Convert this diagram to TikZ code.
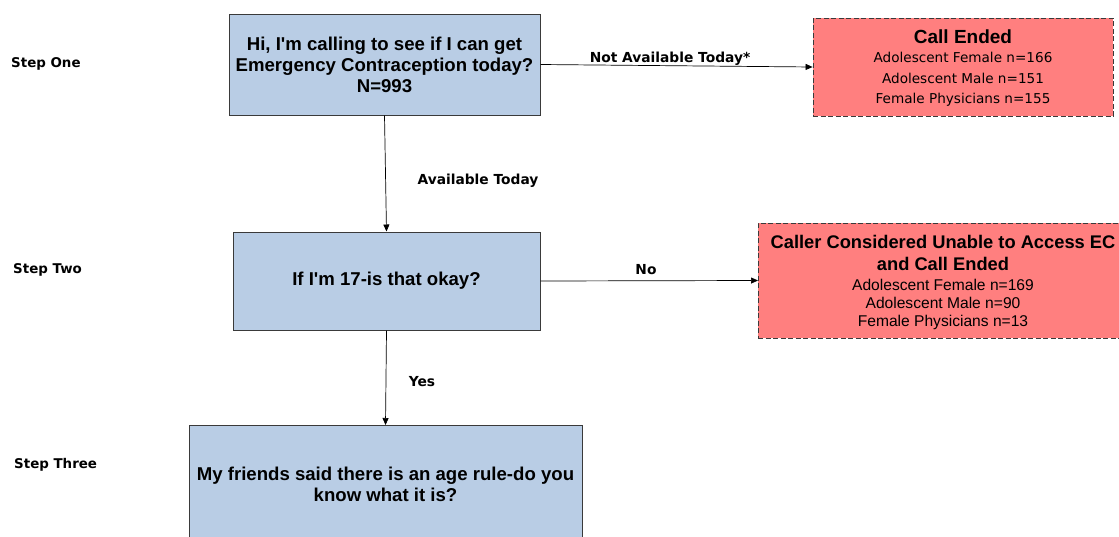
\documentclass[tikz,border=0pt]{standalone}
\usepackage{fontspec}
\setmainfont{Liberation Sans}
\newfontfamily\dvs{DejaVu Sans}
\newfontfamily\arialplain{Liberation Sans}
\usetikzlibrary{arrows.meta}
\definecolor{bluefill}{HTML}{B9CDE5}
\definecolor{redfill}{HTML}{FF7F7F}
\definecolor{edge}{HTML}{3A3A3A}
\newcommand{\apos}{{\arialplain'}}
\tikzset{
  qbox/.style={draw=edge, line width=1pt, fill=bluefill, inner sep=0pt, align=center},
  qfont/.style={font=\fontsize{18.6}{21}\selectfont\bfseries},
  endbox/.style={draw=edge, line width=0.8pt, dash pattern=on 5pt off 2.5pt, fill=redfill, inner sep=0pt, align=center},
  steplabel/.style={anchor=west, inner sep=0pt, font=\dvs\fontsize{13.4}{15}\selectfont\bfseries},
  edgelabel/.style={inner sep=0pt, font=\dvs\fontsize{13.8}{15}\selectfont\bfseries},
  conn/.style={-{Triangle[length=7pt,width=6pt]}, line width=0.7pt, black}
}
\begin{document}
\begin{tikzpicture}[x=1pt,y=-1pt]
\useasboundingbox (0,0) rectangle (1119,536);
\clip (0,0) rectangle (1119,536);
\fill[white] (0,0) rectangle (1119,536);
% step labels
\node[steplabel] (s1) at (11,64) {Step One};
\node[steplabel] (s2) at (13,270) {Step Two};
\node[steplabel] (s3) at (14,465) {Step Three};
% question boxes
\node[qbox, qfont, minimum width=311pt, minimum height=101pt] (q1) at (384.5,64.5)
  {Hi, I\apos m calling to see if I can get\\Emergency Contraception today?\\N=993};
\node[qbox, qfont, minimum width=307pt, minimum height=98pt] (q2) at (386.5,281)
  {If I\apos m 17-is that okay?};
\node[qbox, minimum width=393pt, minimum height=130pt, anchor=north] (q3) at (385.5,425)
  {};
\node[qfont, align=center, inner sep=0pt] (q3t) at (385.5,484)
  {My friends said there is an age rule-do you\\know what it is?};
% end boxes
\node[endbox, minimum width=300pt, minimum height=98pt] (e1) at (963,67) {};
\node[align=center, inner sep=0pt, font=\fontsize{13.6}{20.5}\selectfont] (e1t) at (963,68)
  {{\fontsize{19}{20}\selectfont\bfseries Call Ended}\\[-1pt]
   {\dvs Adolescent Female n=166}\\
   {\dvs Adolescent Male n=151}\\
   {\dvs Female Physicians n=155}};
\node[endbox, minimum width=370pt, minimum height=115pt, anchor=west] (e2) at (758,280.5) {};
\node[align=center, inner sep=0pt, font=\fontsize{15.6}{18}\selectfont] (e2t) at (943,282.5)
  {{\fontsize{18.3}{20}\selectfont\bfseries Caller Considered Unable to Access EC}\\[4pt]
   {\fontsize{18.3}{20}\selectfont\bfseries and Call Ended}\\[2pt]
   Adolescent Female n=169\\
   Adolescent Male n=90\\
   Female Physicians n=13};
% connectors
\draw[conn] (q1.east) -- (e1.west);
\node[edgelabel] (l1) at (670,58.5) {Not Available Today*};
\draw[conn] (q1.south) -- (q2.north);
\node[edgelabel] (l2) at (478,180.5) {Available Today};
\draw[conn] (q2.east) -- (e2.west);
\node[edgelabel] (l3) at (646,270) {No};
\draw[conn] (q2.south) -- (q3.north);
\node[edgelabel] (l4) at (422,382) {Yes};
\end{tikzpicture}
\end{document}
